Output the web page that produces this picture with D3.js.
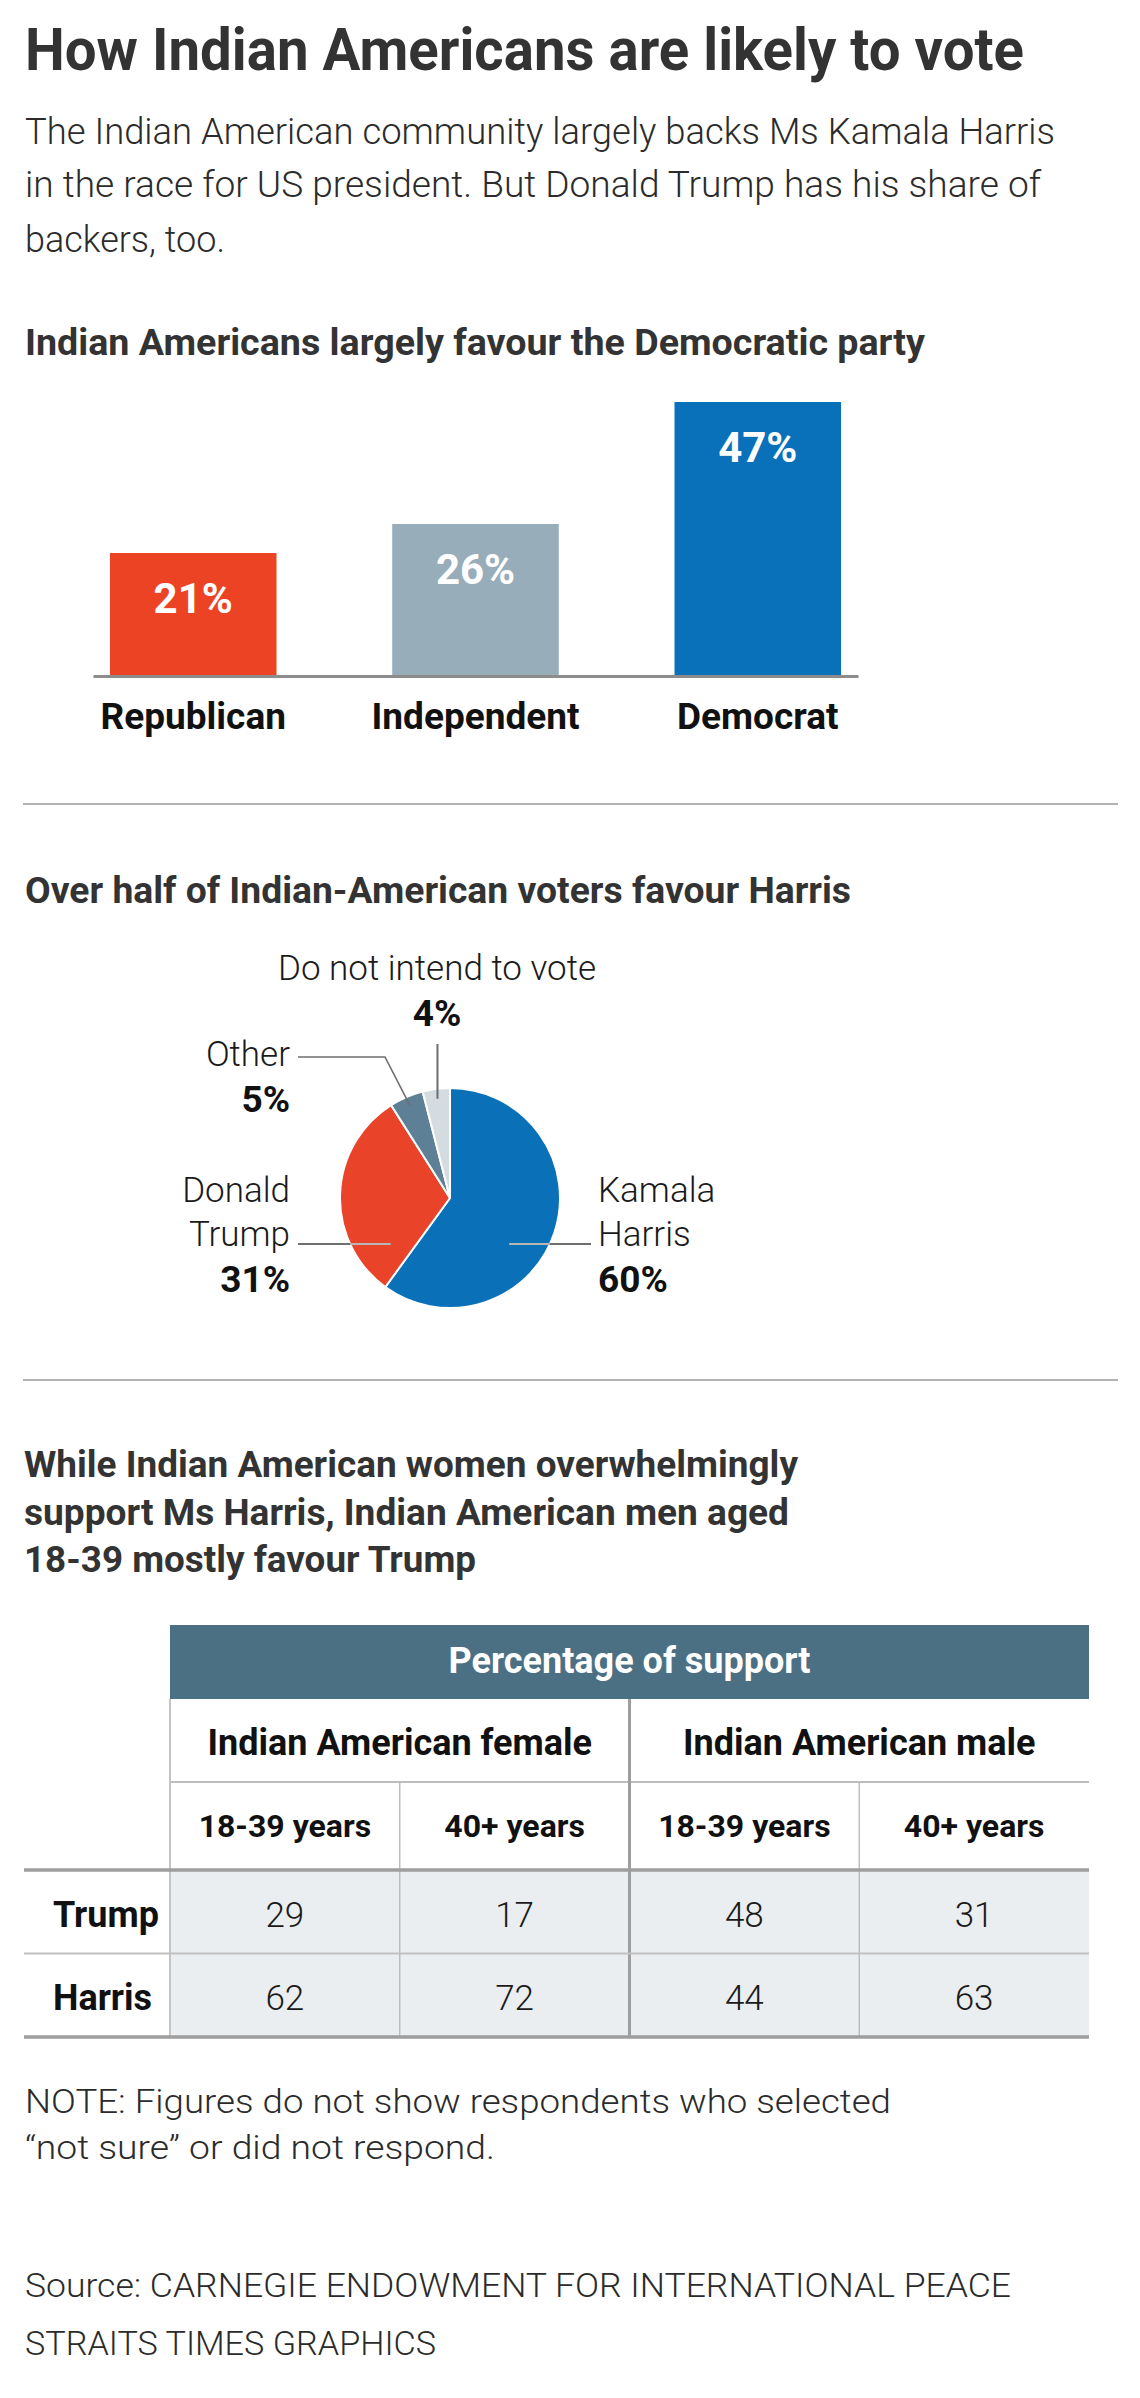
<!DOCTYPE html>
<html>
<head>
<meta charset="utf-8">
<script src="https://cdn.jsdelivr.net/npm/d3@7"></script>
<style>
    html, body { margin: 0; padding: 0; background: #fff; }
    svg { display: block; }
</style>
</head>
<body>
<div id="chart"></div>
<script>
(function () {
    // Bar chart: party identification
    var parties = ['Republican', 'Independent', 'Democrat'];
    var partyShares = [21, 26, 47];
    var partyColors = ['#ec4324', '#97adba', '#0971ba'];

    // Pie chart: vote intention
    var candidates = ['Kamala Harris', 'Donald Trump', 'Other', 'Do not intend to vote'];
    var candidateShares = [60, 31, 5, 4];
    var candidateColors = ['#0a70b8', '#e9432a', '#5d8096', '#d4dce1'];

    // Table: support by gender and age
    var genderGroups = ['Indian American female', 'Indian American male'];
    var ageBands = ['18-39 years', '40+ years', '18-39 years', '40+ years'];
    var tableRows = ['Trump', 'Harris'];
    var trumpSupport = [29, 17, 48, 31];
    var harrisSupport = [62, 72, 44, 63];

    var FONT = 'Roboto, "Noto Sans", "Liberation Sans", sans-serif';
    var W = 1140, H = 2398;

    var svg = d3.select('#chart').append('svg')
        .attr('width', W)
        .attr('height', H)
        .style('font-family', FONT);

    // plain text helper, width squeezes the run to the measured length
    function text(x, y, str, size, weight, fill, anchor, width) {
        var t = svg.append('text')
            .attr('x', x)
            .attr('y', y)
            .attr('font-size', size)
            .attr('font-weight', weight)
            .attr('fill', fill)
            .attr('text-anchor', anchor || 'start')
            .text(str);
        if (width) {
            t.attr('textLength', width).attr('lengthAdjust', 'spacingAndGlyphs');
        }
        return t;
    }

    function rule(x1, x2, y, color, w) {
        svg.append('line')
            .attr('x1', x1).attr('x2', x2)
            .attr('y1', y).attr('y2', y)
            .attr('stroke', color)
            .attr('stroke-width', w);
    }

    // Header
    text(25, 70, 'How Indian Americans are likely to vote', 59, 700, '#333', 'start', 999);
    text(25, 144, 'The Indian American community largely backs Ms Kamala Harris', 37, 300, '#2b2b2b', 'start', 1030);
    text(25, 197, 'in the race for US president. But Donald Trump has his share of', 37, 300, '#2b2b2b', 'start', 1016);
    text(25, 252, 'backers, too.', 37, 300, '#2b2b2b', 'start', 200);

    // ---- Bar chart ----
    text(25, 355, 'Indian Americans largely favour the Democratic party', 37, 700, '#333', 'start', 900);

    var bars = parties.map(function (p, i) {
        return { party: p, value: partyShares[i], color: partyColors[i] };
    });

    var xBar = d3.scaleBand()
        .domain(parties)
        .range([93, 858])
        .paddingInner(0.41)
        .paddingOuter(0.06);

    var yBar = d3.scaleLinear()
        .domain([0, 47])
        .range([675, 402]);

    svg.append('g').selectAll('rect')
        .data(bars)
        .enter()
        .append('rect')
        .attr('x', function (d) { return xBar(d.party); })
        .attr('y', function (d) { return yBar(d.value); })
        .attr('width', xBar.bandwidth())
        .attr('height', function (d) { return yBar(0) - yBar(d.value); })
        .attr('fill', function (d) { return d.color; });

    svg.append('g').selectAll('text')
        .data(bars)
        .enter()
        .append('text')
        .attr('x', function (d) { return xBar(d.party) + xBar.bandwidth() / 2; })
        .attr('y', function (d) { return yBar(d.value) + 60; })
        .attr('text-anchor', 'middle')
        .attr('font-size', 42)
        .attr('font-weight', 700)
        .attr('fill', '#fff')
        .text(function (d) { return d.value + '%'; });

    var axis = svg.append('g')
        .attr('transform', 'translate(0,676)')
        .call(d3.axisBottom(xBar).tickSize(0).tickSizeOuter(0).tickPadding(27));
    axis.select('.domain').attr('stroke', '#8c8c8c').attr('stroke-width', 3);
    axis.selectAll('text')
        .attr('font-family', FONT)
        .attr('font-size', 37)
        .attr('font-weight', 700)
        .attr('fill', '#111');

    rule(23, 1118, 804, '#b3b3b3', 2);

    // ---- Pie chart ----
    text(25, 903, 'Over half of Indian-American voters favour Harris', 37, 700, '#333', 'start', 826);

    var cx = 450, cy = 1198, R = 110;
    var slices = candidates.map(function (c, i) {
        return { name: c, value: candidateShares[i], color: candidateColors[i] };
    });

    var pie = d3.pie().sort(null).value(function (d) { return d.value; });
    var arc = d3.arc().innerRadius(0).outerRadius(R);
    var arcs = pie(slices);

    var pieG = svg.append('g').attr('transform', 'translate(' + cx + ',' + cy + ')');
    pieG.selectAll('path')
        .data(arcs)
        .enter()
        .append('path')
        .attr('d', arc)
        .attr('fill', function (d) { return d.data.color; })
        .attr('stroke', '#fff')
        .attr('stroke-width', 2);

    function polar(a, r) {
        return [cx + r * Math.sin(a), cy - r * Math.cos(a)];
    }

    // label placement for each slice, same order as candidates
    var pieLabelLayout = [
        { x: 598, y: 1202, anchor: 'start', wrap: true, leader: 'side', ly: 1244, lx: 591 },
        { x: 290, y: 1202, anchor: 'end', wrap: true, leader: 'side', ly: 1244, lx: 298 },
        { x: 290, y: 1066, anchor: 'end', wrap: false, leader: 'elbow', ly: 1057, lx: 298, ex: 385 },
        { x: 437, y: 980, anchor: 'middle', wrap: false, leader: 'up', ly: 1044 }
    ];

    arcs.forEach(function (d, i) {
        var L = pieLabelLayout[i];
        var lines = L.wrap ? d.data.name.split(' ') : [d.data.name];
        lines.forEach(function (ln, k) {
            text(L.x, L.y + k * 44, ln, 35, 300, '#1a1a1a', L.anchor);
        });
        text(L.x, L.y + lines.length * 44 + 2, d.data.value + '%', 37, 700, '#111', L.anchor);

        var mid = (d.startAngle + d.endAngle) / 2;
        var leader = svg.append('g').attr('fill', 'none').attr('stroke', '#6e6e6e').attr('stroke-width', 2);
        if (L.leader === 'side') {
            var dy = L.ly - cy;
            var side = Math.sin(mid) >= 0 ? 1 : -1;
            var inX = cx + side * Math.sqrt(75 * 75 - dy * dy);
            var edgeX = cx + side * Math.sqrt(R * R - dy * dy);
            leader.append('line').attr('x1', inX).attr('x2', L.lx).attr('y1', L.ly).attr('y2', L.ly);
            leader.append('line').attr('x1', inX).attr('x2', edgeX).attr('y1', L.ly).attr('y2', L.ly)
                .attr('stroke', '#fff').attr('stroke-width', 1);
        } else if (L.leader === 'elbow') {
            var p = polar(mid, 100);
            leader.append('path')
                .attr('stroke-width', 1.6)
                .attr('d', 'M' + L.lx + ',' + L.ly + 'H' + L.ex + 'L' + p[0] + ',' + p[1]);
        } else {
            var q = polar(mid, 100);
            leader.append('line').attr('x1', q[0]).attr('x2', q[0]).attr('y1', L.ly).attr('y2', q[1]);
        }
    });

    rule(23, 1118, 1380, '#b3b3b3', 2);

    // ---- Table ----
    text(24, 1477, 'While Indian American women overwhelmingly', 37, 700, '#333', 'start', 774);
    text(24, 1525, 'support Ms Harris, Indian American men aged', 37, 700, '#333', 'start', 765);
    text(24, 1572, '18-39 mostly favour Trump', 37, 700, '#333', 'start', 452);

    var tLeft = 170, tRight = 1089;
    var colX = d3.scaleBand().domain(d3.range(ageBands.length)).range([tLeft, tRight]);
    var groupX = d3.scaleBand().domain(genderGroups).range([tLeft, tRight]);
    var rowY = d3.scaleBand().domain(tableRows).range([1870, 2037]);
    var values = { Trump: trumpSupport, Harris: harrisSupport };

    // header band
    svg.append('rect')
        .attr('x', tLeft).attr('y', 1625)
        .attr('width', tRight - tLeft).attr('height', 74)
        .attr('fill', '#4b7083');
    text((tLeft + tRight) / 2, 1673, 'Percentage of support', 36, 700, '#fff', 'middle');

    // data background
    svg.append('rect')
        .attr('x', tLeft).attr('y', rowY.range()[0])
        .attr('width', tRight - tLeft).attr('height', rowY.range()[1] - rowY.range()[0])
        .attr('fill', '#eaeef1');

    svg.append('g').selectAll('text')
        .data(genderGroups)
        .enter()
        .append('text')
        .attr('x', function (d) { return groupX(d) + groupX.bandwidth() / 2; })
        .attr('y', 1755)
        .attr('text-anchor', 'middle')
        .attr('font-size', 36)
        .attr('font-weight', 700)
        .attr('fill', '#111')
        .text(function (d) { return d; });

    svg.append('g').selectAll('text')
        .data(ageBands)
        .enter()
        .append('text')
        .attr('x', function (d, i) { return colX(i) + colX.bandwidth() / 2; })
        .attr('y', 1837)
        .attr('text-anchor', 'middle')
        .attr('font-size', 32)
        .attr('font-weight', 700)
        .attr('fill', '#111')
        .text(function (d) { return d; });

    tableRows.forEach(function (r) {
        var yb = rowY(r) + rowY.bandwidth() / 2 + 15;
        text(53, yb, r, 36, 700, '#111', 'start');
        svg.append('g').selectAll('text')
            .data(values[r])
            .enter()
            .append('text')
            .attr('x', function (d, i) { return colX(i) + colX.bandwidth() / 2; })
            .attr('y', yb)
            .attr('text-anchor', 'middle')
            .attr('font-size', 35)
            .attr('font-weight', 300)
            .attr('fill', '#1a1a1a')
            .text(function (d) { return d; });
    });

    // grid lines
    rule(tLeft, tRight, 1782, '#bdbdbd', 2);
    svg.append('line')
        .attr('x1', tLeft).attr('x2', tLeft)
        .attr('y1', 1699).attr('y2', 2037)
        .attr('stroke', '#c4c4c4').attr('stroke-width', 2);
    [1, 3].forEach(function (i) {
        svg.append('line')
            .attr('x1', colX(i)).attr('x2', colX(i))
            .attr('y1', 1782).attr('y2', 2037)
            .attr('stroke', '#bdbdbd').attr('stroke-width', 1.5);
    });
    svg.append('line')
        .attr('x1', groupX(genderGroups[1])).attr('x2', groupX(genderGroups[1]))
        .attr('y1', 1699).attr('y2', 2037)
        .attr('stroke', '#9e9e9e').attr('stroke-width', 3);
    rule(24, tRight, 1870, '#9e9e9e', 3.5);
    rule(24, tRight, rowY('Harris'), '#c0c0c0', 2);
    rule(24, tRight, 2037, '#9e9e9e', 3.5);

    // Footer
    text(25, 2113, 'NOTE: Figures do not show respondents who selected', 33, 300, '#2b2b2b', 'start', 866);
    text(25, 2159, '\u201Cnot sure\u201D or did not respond.', 33, 300, '#2b2b2b', 'start', 470);
    text(25, 2297, 'Source: CARNEGIE ENDOWMENT FOR INTERNATIONAL PEACE', 33, 300, '#2b2b2b', 'start', 986);
    text(25, 2355, 'STRAITS TIMES GRAPHICS', 33, 300, '#2b2b2b', 'start', 411);
})();
</script>
</body>
</html>
